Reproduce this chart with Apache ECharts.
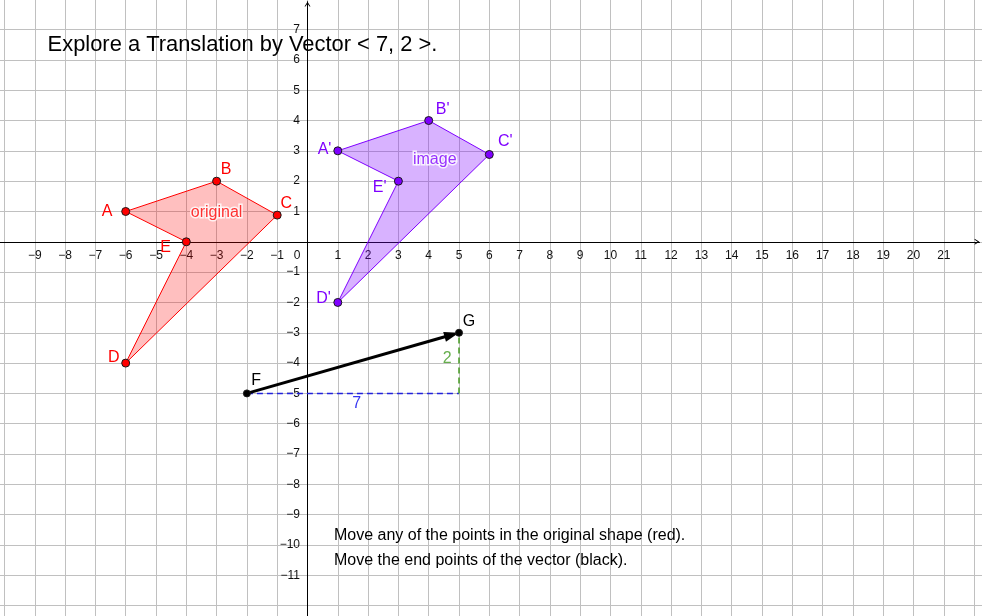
<!DOCTYPE html>
<html>
<head>
<meta charset="utf-8">
<script src="https://cdn.jsdelivr.net/npm/echarts@6/dist/echarts.min.js"></script>
<style>
html,body{margin:0;padding:0;background:#ffffff;}
#chart{width:982px;height:616px;}
</style>
</head>
<body>
<div id="chart"></div>
<script>
// ---------------- data ----------------
const originalNames = ['A', 'B', 'C', 'D', 'E'];
const originalX = [-6, -3, -1, -6, -4];
const originalY = [1, 2, 0.88, -4, 0];

const imageNames = ["A'", "B'", "C'", "D'", "E'"];
const imageX = [1, 4, 6, 1, 3];
const imageY = [3, 4, 2.88, -2, 2];

const vectorNames = ['F', 'G'];
const vectorX = [-2, 5];
const vectorY = [-5, -3];

const shapeLabels = ['original', 'image'];
const shapeLabelX = [-3, 4.2];
const shapeLabelY = [0.96, 2.7];

const xTickValues = [-9, -8, -7, -6, -5, -4, -3, -2, -1, 0, 1, 2, 3, 4, 5, 6, 7, 8, 9, 10, 11, 12, 13, 14, 15, 16, 17, 18, 19, 20, 21];
const yTickValues = [-11, -10, -9, -8, -7, -6, -5, -4, -3, -2, -1, 1, 2, 3, 4, 5, 6, 7];

const titleText = 'Explore a Translation by Vector < 7, 2 >.';
const noteLines = ['Move any of the points in the original shape (red).', 'Move the end points of the vector (black).'];

// ---------------- layout / style ----------------
const W = 982, H = 616;
const X0 = 307.5, Y0 = 241.8, SX = 30.3, SY = 30.32;
const G0 = { xMin: -11, xMax: 23, yMin: -13, yMax: 8 };
const FONT = "'Liberation Sans', Arial, Helvetica, sans-serif";
const RED = '#ff0000', PURPLE = '#7f00ff';
const GRID_COLOR = '#c0c0c0';
const TICK_COLOR = '#111111';
const origLabelOffsets = [[-18.7, 0], [9.5, -12], [9, -12], [-12, -5], [-20.7, 5.6]];
const imgLabelOffsets = [[-13.3, -1], [14, -10.7], [16, -13.3], [-14.3, -4], [-18.7, 6.3]];
const vecLabelOffsets = [[9.3, -12.6], [10, -11]];
const shapeLabelColors = [RED, PURPLE];
const ARROW = 'path://M0,8L5,0L10,8L8.4,8L5,3L1.6,8Z';

function minus(v) { return v < 0 ? '\u2212' + Math.abs(v) : String(v); }

function polygonSeries(xs, ys, fill, stroke) {
  const pts = xs.map((x, i) => [x, ys[i]]);
  return {
    type: 'custom', xAxisIndex: 0, yAxisIndex: 0, silent: true, z: 2,
    data: pts,
    renderItem: function (params, api) {
      if (params.dataIndex !== 0) return null;
      return {
        type: 'polygon',
        shape: { points: pts.map(p => api.coord(p)) },
        style: { fill: fill, stroke: stroke, lineWidth: 1 }
      };
    }
  };
}

function pointSeries(names, xs, ys, offsets, color, labelColor, size) {
  return {
    type: 'scatter', xAxisIndex: 0, yAxisIndex: 0, symbol: 'circle', symbolSize: size, z: 6,
    itemStyle: { color: color, borderColor: '#1a1a1a', borderWidth: 1, opacity: 1 },
    data: names.map((n, i) => ({ name: n, value: [xs[i], ys[i]], label: { offset: offsets[i] } })),
    label: { show: true, position: 'inside', formatter: '{b}', color: labelColor, fontSize: 16, fontFamily: FONT },
    emphasis: { disabled: true }, silent: true
  };
}

function textOnlySeries(items, extraLabel) {
  return {
    type: 'scatter', xAxisIndex: 0, yAxisIndex: 0, symbol: 'circle', symbolSize: 1, z: 7, silent: true,
    itemStyle: { color: 'rgba(0,0,0,0)', borderWidth: 0 },
    data: items,
    label: Object.assign({ show: true, position: 'inside', formatter: '{b}', fontSize: 16, fontFamily: FONT }, extraLabel),
    emphasis: { disabled: true }
  };
}

const dx = vectorX[1] - vectorX[0];
const dy = vectorY[1] - vectorY[0];

const option = {
  animation: false,
  backgroundColor: '#ffffff',
  grid: [
    {
      left: X0 + G0.xMin * SX,
      right: W - (X0 + G0.xMax * SX),
      top: Y0 - G0.yMax * SY,
      bottom: H - (Y0 - G0.yMin * SY),
      outerBoundsMode: 'none', containLabel: false
    },
    { left: 0, right: 2.5, top: 1.7, bottom: 0, outerBoundsMode: 'none', containLabel: false }
  ],
  xAxis: [
    {
      gridIndex: 0, type: 'value', min: G0.xMin, max: G0.xMax, interval: 1,
      position: 'bottom', offset: G0.yMin * SY,
      axisLine: { show: false, onZero: false },
      axisTick: { show: false },
      splitLine: { show: true, lineStyle: { color: GRID_COLOR, width: 1 } },
      axisLabel: {
        show: true, margin: 7.5, color: TICK_COLOR, fontSize: 12, fontFamily: FONT,
        formatter: function (v) {
          if (v === 0) return '{o|0}';
          return xTickValues.indexOf(v) >= 0 ? minus(v) : '';
        },
        rich: { o: { padding: [0, 21, 0, 0], color: TICK_COLOR, fontSize: 12, fontFamily: FONT } }
      }
    },
    {
      gridIndex: 1, type: 'value', min: -X0 / SX, max: (W - 2.5 - X0) / SX,
      axisLine: {
        show: true, onZero: true, lineStyle: { color: '#000', width: 1 },
        symbol: ['none', ARROW], symbolSize: [6, 5], symbolOffset: [0, -2.5]
      },
      axisTick: { show: false }, axisLabel: { show: false }, splitLine: { show: false }
    }
  ],
  yAxis: [
    {
      gridIndex: 0, type: 'value', min: G0.yMin, max: G0.yMax, interval: 1,
      position: 'left', offset: G0.xMin * SX,
      axisLine: { show: false, onZero: false },
      axisTick: { show: false },
      splitLine: { show: true, lineStyle: { color: GRID_COLOR, width: 1 } },
      axisLabel: {
        show: true, margin: 7.5, color: TICK_COLOR, fontSize: 12, fontFamily: FONT,
        formatter: function (v) { return yTickValues.indexOf(v) >= 0 ? minus(v) : ''; }
      }
    },
    {
      gridIndex: 1, type: 'value', min: -(H - Y0) / SY, max: (Y0 - 1.7) / SY,
      axisLine: {
        show: true, onZero: true, lineStyle: { color: '#000', width: 1 },
        symbol: ['none', ARROW], symbolSize: [6, 5], symbolOffset: [0, -2.5]
      },
      axisTick: { show: false }, axisLabel: { show: false }, splitLine: { show: false }
    }
  ],
  graphic: [
    { type: 'text', x: 47.6, y: 44.8, z: 100, silent: true,
      style: { text: titleText, fill: '#000', font: '21.9px ' + FONT, align: 'left', verticalAlign: 'middle' } },
    { type: 'text', x: 334, y: 535.5, z: 100, silent: true,
      style: { text: noteLines[0], fill: '#000', font: '16px ' + FONT, align: 'left', verticalAlign: 'middle' } },
    { type: 'text', x: 334, y: 560.2, z: 100, silent: true,
      style: { text: noteLines[1], fill: '#000', font: '16px ' + FONT, align: 'left', verticalAlign: 'middle' } }
  ],
  series: [
    polygonSeries(originalX, originalY, 'rgba(255,0,0,0.25)', RED),
    polygonSeries(imageX, imageY, 'rgba(127,0,255,0.3)', PURPLE),
    {
      type: 'line', xAxisIndex: 0, yAxisIndex: 0, silent: true, z: 3,
      data: [[vectorX[0], vectorY[0]], [vectorX[1], vectorY[0]]],
      symbol: 'none', showSymbol: false,
      lineStyle: { color: '#2222dd', width: 1.5, type: [6, 4] }
    },
    {
      type: 'line', xAxisIndex: 0, yAxisIndex: 0, silent: true, z: 3,
      data: [[vectorX[1], vectorY[0]], [vectorX[1], vectorY[1]]],
      symbol: 'none', showSymbol: false,
      lineStyle: { color: '#449a22', width: 1.5, type: [6, 4] }
    },
    {
      type: 'custom', xAxisIndex: 0, yAxisIndex: 0, silent: true, z: 4,
      data: vectorX.map((x, i) => [x, vectorY[i]]),
      renderItem: function (params, api) {
        if (params.dataIndex !== 0) return null;
        const a = api.coord([vectorX[0], vectorY[0]]);
        const b = api.coord([vectorX[1], vectorY[1]]);
        const ddx = b[0] - a[0], ddy = b[1] - a[1];
        const L = Math.sqrt(ddx * ddx + ddy * ddy);
        const ux = ddx / L, uy = ddy / L;
        const hl = 15, hw = 5;
        const base = [b[0] - ux * hl, b[1] - uy * hl];
        return {
          type: 'group',
          children: [
            { type: 'line', shape: { x1: a[0], y1: a[1], x2: base[0] + ux * 3, y2: base[1] + uy * 3 },
              style: { stroke: '#000', lineWidth: 3 } },
            { type: 'polygon',
              shape: { points: [b, [base[0] - uy * hw, base[1] + ux * hw], [base[0] + uy * hw, base[1] - ux * hw]] },
              style: { fill: '#000' } }
          ]
        };
      }
    },
    textOnlySeries(shapeLabels.map((s, i) => ({
      name: s, value: [shapeLabelX[i], shapeLabelY[i]], label: { color: shapeLabelColors[i] }
    })), { textBorderColor: '#ffffff', textBorderWidth: 3 }),
    textOnlySeries([
      { name: String(dx), value: [(vectorX[0] + vectorX[1]) / 2, vectorY[0]], label: { color: '#0000ee', offset: [3.7, 10.6] } },
      { name: String(dy), value: [vectorX[1], (vectorY[0] + vectorY[1]) / 2], label: { color: '#3f9a1f', offset: [-11.7, -4.7] } }
    ], {}),
    pointSeries(originalNames, originalX, originalY, origLabelOffsets, RED, RED, 8),
    pointSeries(imageNames, imageX, imageY, imgLabelOffsets, PURPLE, PURPLE, 8),
    pointSeries(vectorNames, vectorX, vectorY, vecLabelOffsets, '#000000', '#000000', 7)
  ]
};

const chart = echarts.init(document.getElementById('chart'), null, { renderer: 'canvas', width: 982, height: 616 });
chart.setOption(option);
</script>
</body>
</html>
